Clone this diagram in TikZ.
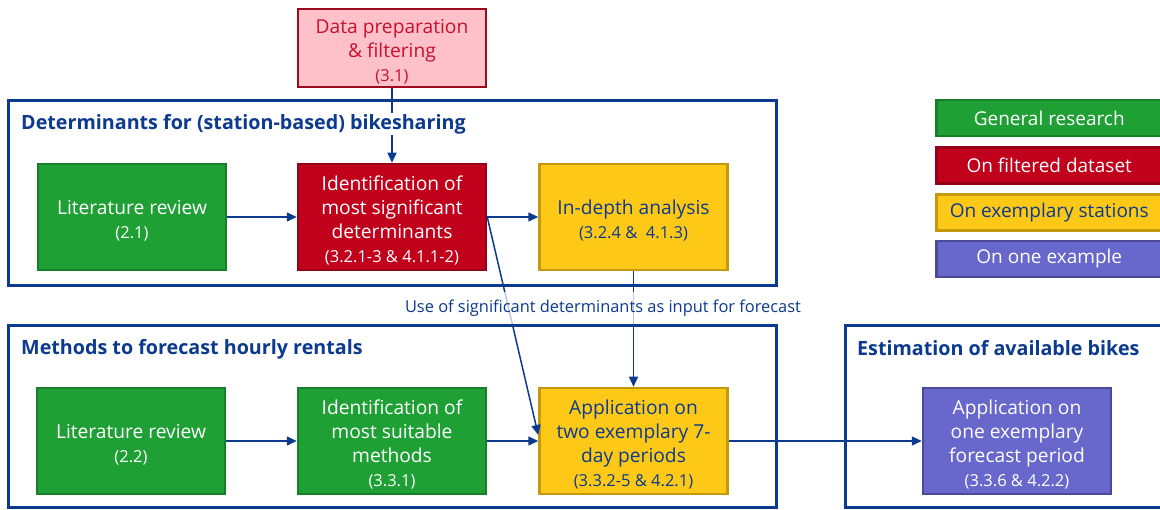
\documentclass[tikz,border=0pt]{standalone}
\usepackage{fontspec}
\setmainfont{Open Sans}
\usetikzlibrary{arrows.meta}

\definecolor{navy}{HTML}{0B3A8E}
\definecolor{gfill}{HTML}{1FA035}
\definecolor{gline}{HTML}{167F29}
\definecolor{rfill}{HTML}{C1001C}
\definecolor{rline}{HTML}{960018}
\definecolor{yfill}{HTML}{FDC816}
\definecolor{yline}{HTML}{C49A0C}
\definecolor{pfill}{HTML}{6767CC}
\definecolor{pline}{HTML}{4A4A98}
\definecolor{pinkfill}{HTML}{FFC1C9}
\definecolor{pinkline}{HTML}{9E0A1E}
\definecolor{pinktext}{HTML}{C8102E}

% section reference below a step, and a strut that lowers the first line
\newcommand\refnum[1]{{\fontsize{16.5}{22}\selectfont #1}}
\newcommand\topstrut{\rule{0pt}{22pt}}

\tikzset{
  frame/.style={draw=navy, line width=3pt},
  frametitle/.style={anchor=west, text=navy, fill=white, inner sep=1pt,
    font=\bfseries\fontsize{19.7}{23}\selectfont},
  stepbox/.style={draw, line width=2.5pt, minimum width=188pt, minimum height=106pt,
    align=center, inner sep=1pt, font=\fontsize{19.2}{24}\selectfont},
  general/.style={stepbox, fill=gfill, draw=gline, text=white},
  filtered/.style={stepbox, fill=rfill, draw=rline, text=white},
  stations/.style={stepbox, fill=yfill, draw=yline, text=navy},
  oneex/.style={stepbox, fill=pfill, draw=pline, text=white},
  prepbox/.style={stepbox, fill=pinkfill, draw=pinkline, text=pinktext, minimum height=78pt},
  legendbox/.style={draw, line width=2.5pt, minimum width=226pt, minimum height=36pt,
    anchor=west, inner sep=1pt, font=\fontsize{19}{22}\selectfont},
  conn/.style={draw=navy, line width=1.5pt, -{Triangle[length=10pt,width=9pt]}},
  flowlabel/.style={text=navy, fill=white, fill opacity=0.72, text opacity=1,
    minimum height=32pt, inner sep=2pt, font=\fontsize{16.4}{19}\selectfont}
}

\begin{document}
\begin{tikzpicture}[x=1pt,y=-1pt]
\useasboundingbox (0,0) rectangle (1160,510);
\clip (0,0) rectangle (1160,510);
\fill[white] (0,0) rectangle (1160,510);

% section frames
\draw[frame] (8,101) rectangle (776,286);
\draw[frame] (8,326) rectangle (776,508);
\draw[frame] (845,326) rectangle (1180,508);

% process steps
\node[prepbox]  (prep)   at (392,48)    {\topstrut Data preparation\\\& filtering\\\refnum{(3.1)}};
\node[general]  (lit1)   at (132,217)   {\topstrut Literature review\\\refnum{(2.1)}};
\node[filtered] (ident1) at (392,217)   {\topstrut Identification of\\most significant\\determinants\\\refnum{(3.2.1-3 \& 4.1.1-2)}};
\node[stations] (depth)  at (633.5,217) {\topstrut In-depth analysis\\\refnum{(3.2.4 \&\ \ 4.1.3)}};
\node[general]  (lit2)   at (131,441)   {\topstrut Literature review\\\refnum{(2.2)}};
\node[general]  (ident2) at (392,441)   {\topstrut Identification of\\most suitable\\methods\\\refnum{(3.3.1)}};
\node[stations] (app2)   at (633.5,441) {\topstrut Application on\\two exemplary 7-\\day periods\\\refnum{(3.3.2-5 \& 4.2.1)}};
\node[oneex]    (app3)   at (1017,441)  {\topstrut Application on\\one exemplary\\forecast period\\\refnum{(3.3.6 \& 4.2.2)}};

% connectors
\draw[conn] (prep.south) -- (ident1.north);
\draw[conn] (lit1.east) -- (ident1.west);
\draw[conn] (ident1.east) -- (depth.west);
\draw[conn] (ident1.east) -- ([yshift=6pt]app2.west);
\draw[conn] (depth.south) -- (app2.north);
\draw[conn] (lit2.east) -- (ident2.west);
\draw[conn] (ident2.east) -- (app2.west);
\draw[conn] (app2.east) -- (app3.west);

% frame titles
\node[frametitle] (t1) at (20,124) {Determinants for (station-based) bikesharing};
\node[frametitle] (t2) at (20,349) {Methods to forecast hourly rentals};
\node[frametitle] (t3) at (856,348) {Estimation of available bikes};

% label on the link between the sections
\node[flowlabel] (uselbl) at (603,308) {Use of significant determinants as input for forecast};

% legend
\node[legendbox, fill=gfill, draw=gline, text=white] (lg1) at (935,118)   {General research};
\node[legendbox, fill=rfill, draw=rline, text=white] (lg2) at (935,165.5) {On filtered dataset};
\node[legendbox, fill=yfill, draw=yline, text=navy]  (lg3) at (935,212.5) {On exemplary stations};
\node[legendbox, fill=pfill, draw=pline, text=white] (lg4) at (935,259)   {On one example};
\end{tikzpicture}
\end{document}
